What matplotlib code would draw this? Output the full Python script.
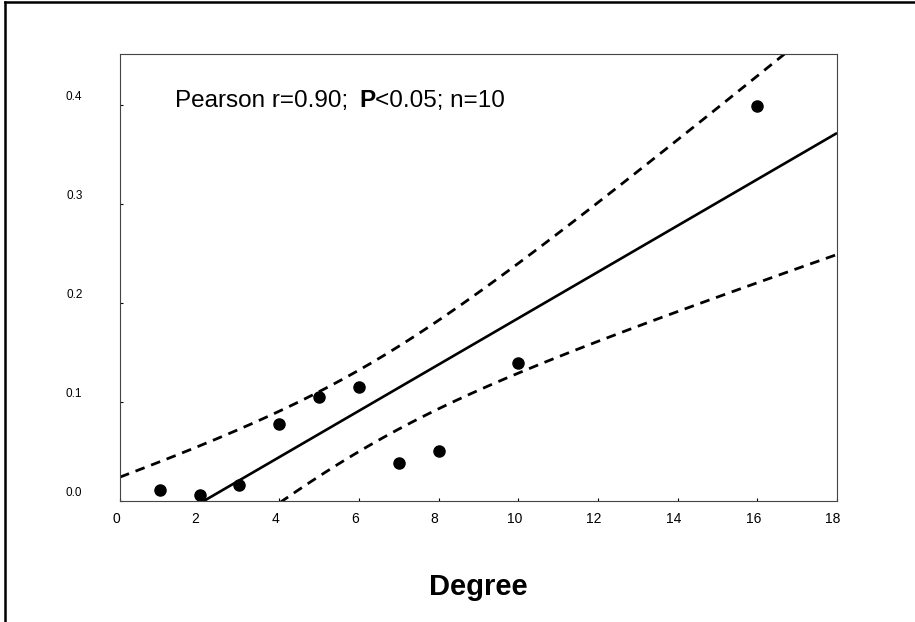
import numpy as np
import matplotlib
matplotlib.use("Agg")
import matplotlib.pyplot as plt
import matplotlib.transforms as mtransforms
from matplotlib.lines import Line2D

plt.rcParams['font.family'] = ['Liberation Sans', 'DejaVu Sans']

# data
degree = np.array([1, 2, 3, 4, 5, 6, 7, 8, 10, 16])
value = np.array([0.011, 0.006, 0.016, 0.078, 0.105, 0.115, 0.038, 0.051, 0.140, 0.399])
x_ticks = [0, 2, 4, 6, 8, 10, 12, 14, 16, 18]
y_ticks = [0.0, 0.1, 0.2, 0.3, 0.4]
y_tick_labels = ['0.0', '0.1', '0.2', '0.3', '0.4']
t_crit = 2.306  # t(0.975, df=8)

# linear fit and 95% confidence band of the mean
n = len(degree)
slope, intercept = np.polyfit(degree, value, 1)
resid = value - (slope * degree + intercept)
s = np.sqrt(np.sum(resid ** 2) / (n - 2))
sxx = np.sum((degree - degree.mean()) ** 2)
xs = np.linspace(0, 18, 200)
fit = slope * xs + intercept
half = t_crit * s * np.sqrt(1.0 / n + (xs - degree.mean()) ** 2 / sxx)

fig = plt.figure(figsize=(9.15, 6.22), dpi=100)
ax = fig.add_axes([0.1311, 0.1945, 0.7837, 0.7187])

ax.plot(xs, fit, color='black', lw=1.9, solid_capstyle='butt')
ax.plot(xs, fit + half, color='black', lw=2.0, dashes=(3.5, 2.5))
ax.plot(xs, fit - half, color='black', lw=2.0, dashes=(3.5, 2.5))
ax.plot(degree, value, 'o', color='black', ms=8, clip_on=False)

ax.set_xlim(0, 18)
ax.set_ylim(0, 0.452)
ax.set_xticks(x_ticks)
ax.set_yticks(y_ticks)
ax.set_yticklabels(y_tick_labels)
ax.tick_params(axis='x', direction='in', length=2, width=0.8, labelsize=10, pad=8)
ax.tick_params(axis='y', direction='in', length=2, width=0.8, labelsize=8.5, pad=27)
for sp in ax.spines.values():
    sp.set_color('#444444')
    sp.set_linewidth(0.8)

# labels in the original sit a bit off their ticks
for lab in ax.get_yticklabels():
    lab.set_transform(lab.get_transform() + mtransforms.ScaledTranslation(0, 10 / 100, fig.dpi_scale_trans))
for lab in ax.get_xticklabels():
    lab.set_transform(lab.get_transform() + mtransforms.ScaledTranslation(-4 / 100, 0, fig.dpi_scale_trans))

ax.set_xlabel('Degree', fontsize=21, fontweight='bold', labelpad=34)

# annotation with a bold P
t1 = ax.text(1.38, 0.398, 'Pearson r=0.90;', fontsize=17.5, va='baseline')
t2 = ax.annotate('P', xy=(1, 0), xycoords=t1, xytext=(8, 0), textcoords='offset points',
                 fontsize=17.5, fontweight='bold', va='bottom')
ax.annotate('<0.05; n=10', xy=(1, 0), xycoords=t2, fontsize=17.5, va='bottom')

# outer frame (top and left edges)
fig.add_artist(Line2D([0.005, 1.0], [0.996, 0.996], transform=fig.transFigure, color='black', lw=1.8))
fig.add_artist(Line2D([0.006, 0.006], [0.0, 0.996], transform=fig.transFigure, color='black', lw=1.8))

fig.savefig('out.png', dpi=100)
